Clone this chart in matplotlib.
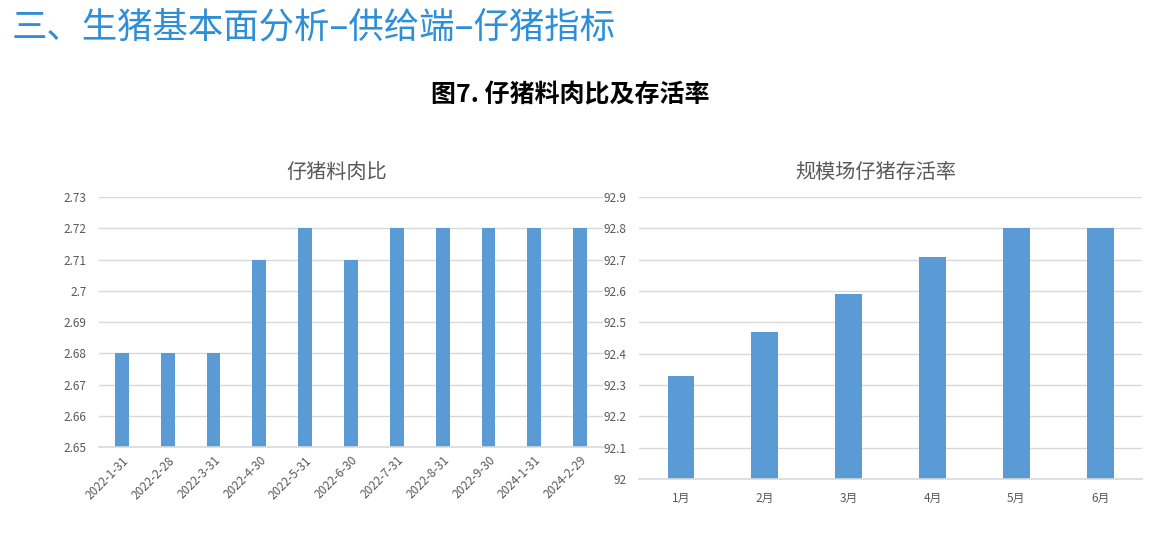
import matplotlib
matplotlib.use('Agg')
import matplotlib.pyplot as plt
import numpy as np

plt.rcParams['font.family'] = ['Noto Sans CJK SC', 'DejaVu Sans']

# 仔猪料肉比
ratio_dates = ['2022-1-31', '2022-2-28', '2022-3-31', '2022-4-30', '2022-5-31',
               '2022-6-30', '2022-7-31', '2022-8-31', '2022-9-30', '2024-1-31', '2024-2-29']
ratio_values = [2.68, 2.68, 2.68, 2.71, 2.72, 2.71, 2.72, 2.72, 2.72, 2.72, 2.72]
ratio_ticks = [2.65, 2.66, 2.67, 2.68, 2.69, 2.70, 2.71, 2.72, 2.73]
ratio_ticklabels = ['2.65', '2.66', '2.67', '2.68', '2.69', '2.7', '2.71', '2.72', '2.73']

# 规模场仔猪存活率
months = ['1月', '2月', '3月', '4月', '5月', '6月']
survival = [92.33, 92.47, 92.59, 92.71, 92.80, 92.80]
surv_ticks = [92.0, 92.1, 92.2, 92.3, 92.4, 92.5, 92.6, 92.7, 92.8, 92.9]
surv_ticklabels = ['92', '92.1', '92.2', '92.3', '92.4', '92.5', '92.6', '92.7', '92.8', '92.9']

bar_color = '#5b9bd5'
grid_color = '#d9d9d9'
text_color = '#595959'

fig = plt.figure(figsize=(11.67, 5.49), dpi=100)

fig.text(0.010, 0.950, '三、生猪基本面分析–供给端–仔猪指标', fontsize=25.5,
         color='#2e8fd8', ha='left', va='center')
fig.text(0.489, 0.826, '图7. 仔猪料肉比及存活率', fontsize=18, weight='bold',
         color='black', ha='center', va='center')


def style_axes(ax):
    for s in ['top', 'right', 'left']:
        ax.spines[s].set_visible(False)
    ax.spines['bottom'].set_color(grid_color)
    ax.spines['bottom'].set_linewidth(1.2)
    ax.tick_params(length=0, colors=text_color, labelsize=8.5)
    ax.yaxis.grid(True, color=grid_color, linewidth=1)
    ax.set_axisbelow(True)


ax1 = fig.add_axes([0.0848, 0.1858, 0.432, 0.455])
x1 = np.arange(len(ratio_dates))
ax1.bar(x1, ratio_values, width=0.3, color=bar_color)
ax1.set_xlim(-0.5, len(ratio_dates) - 0.5)
ax1.set_ylim(2.65, 2.73)
ax1.set_yticks(ratio_ticks)
ax1.set_yticklabels(ratio_ticklabels)
ax1.set_xticks(x1)
ax1.set_xticklabels(ratio_dates, rotation=45, ha='right', rotation_mode='anchor')
style_axes(ax1)
ax1.tick_params(axis='y', pad=9)
ax1.tick_params(axis='x', pad=5)
t1 = ax1.set_title('仔猪料肉比', fontsize=14.5, color=text_color, pad=14)
t1.set_x(0.472)

ax2 = fig.add_axes([0.5476, 0.1275, 0.431, 0.5137])
x2 = np.arange(len(months))
ax2.bar(x2, survival, width=0.32, color=bar_color)
ax2.set_xlim(-0.5, len(months) - 0.5)
ax2.set_ylim(92.0, 92.9)
ax2.set_yticks(surv_ticks)
ax2.set_yticklabels(surv_ticklabels)
ax2.set_xticks(x2)
ax2.set_xticklabels(months)
style_axes(ax2)
ax2.tick_params(axis='y', pad=9)
ax2.tick_params(axis='x', pad=9)
t2 = ax2.set_title('规模场仔猪存活率', fontsize=14.5, color=text_color, pad=14)
t2.set_x(0.471)

fig.savefig('out.png', dpi=100, facecolor='white')
